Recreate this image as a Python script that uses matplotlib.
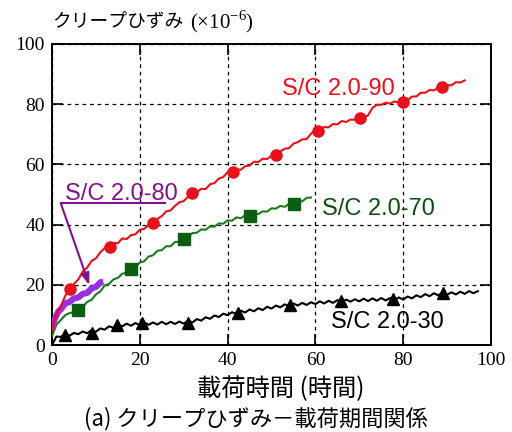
import matplotlib
matplotlib.use("Agg")
import matplotlib.pyplot as plt

plt.rcParams["font.family"] = ["Liberation Serif"]
plt.rcParams["mathtext.fontset"] = "custom"
plt.rcParams["mathtext.rm"] = "Liberation Serif"

# creep strain (x1e-6) sampled every hour
red_strain = [5.0, 10.2, 12.8, 16.3, 18.4, 20.3, 21.8, 24.4, 25.7, 27.9, 28.8, 30.8, 32.2, 32.8, 33.9,
              33.8, 35.4, 35.2, 36.5, 36.8, 38.3, 38.6, 39.9, 40.3, 41.9, 42.8, 44.4, 44.7, 46.2, 47.4,
              47.8, 49.3, 50.1, 50.8, 51.9, 51.8, 53.4, 53.8, 55.3, 55.8, 57.4, 57.3, 58.4, 58.2, 59.4,
              59.6, 60.9, 60.8, 61.9, 61.8, 62.9, 62.8, 64.3, 65.2, 65.4, 66.9, 67.4, 68.3, 68.4, 70.2,
              71.3, 71.3, 72.4, 72.3, 73.4, 73.3, 74.4, 74.1, 74.9, 74.8, 75.6, 75.4, 76.3, 78.8, 79.8,
              79.8, 80.5, 80.2, 80.9, 80.6, 81.3, 81.4, 82.5, 82.6, 83.8, 83.8, 84.7, 84.6, 85.5, 85.4,
              86.3, 86.3, 87.3, 87.2, 87.9]
green_strain = [3.0, 6.7, 8.3, 9.9, 10.6, 10.9, 11.9, 12.6, 14.3, 15.0, 16.8, 17.8, 19.8, 20.3, 21.8,
                22.3, 23.7, 24.0, 25.3, 25.8, 27.4, 27.8, 29.4, 29.8, 31.3, 31.5, 32.8, 32.8, 34.2, 34.3,
                35.6, 35.8, 37.2, 37.3, 38.4, 38.3, 39.4, 39.3, 40.4, 40.3, 41.4, 41.3, 42.4, 42.1, 43.1,
                42.8, 43.7, 43.5, 44.4, 44.3, 45.4, 45.3, 46.2, 45.9, 46.9, 46.6, 47.7, 47.7, 48.9, 49.0]
black_strain = [0.0, 2.8, 2.7, 3.7, 3.1, 4.0, 3.6, 4.5, 3.9, 4.9, 4.4, 5.5, 5.1, 6.2, 5.7, 6.8, 6.2,
                7.1, 6.4, 7.3, 6.6, 7.5, 6.7, 7.5, 6.8, 7.7, 6.9, 7.7, 7.0, 7.8, 7.1, 8.0, 7.5, 8.6,
                8.1, 9.2, 8.7, 9.8, 9.3, 10.4, 9.9, 10.9, 10.3, 11.4, 10.8, 11.8, 11.2, 12.2, 11.6,
                12.7, 12.1, 13.1, 12.5, 13.5, 12.9, 13.8, 13.1, 14.0, 13.3, 14.2, 13.6, 14.5, 13.8,
                14.7, 14.0, 14.9, 14.2, 15.1, 14.4, 15.2, 14.5, 15.4, 14.6, 15.5, 14.7, 15.6, 14.8,
                15.6, 14.9, 15.8, 15.1, 16.1, 15.5, 16.5, 15.9, 16.9, 16.2, 17.2, 16.5, 17.4, 16.7,
                17.5, 16.8, 17.7, 17.0, 17.9, 17.2, 17.9]
purple_hours = [0, 0.5, 1, 1.5, 2, 3, 4, 5, 6, 7, 8, 9, 10, 11, 11.7]
purple_strain = [5.0, 8.3, 9.8, 11.3, 11.8, 13.8, 14.3, 15.5, 15.8, 17.0, 17.3, 18.8, 19.3, 20.8, 21.0]

red_hours = list(range(len(red_strain)))
green_hours = list(range(len(green_strain)))
black_hours = list(range(len(black_strain)))

# marker positions
red_mark_h = [4.1, 13.1, 23.1, 32.0, 41.2, 51.0, 60.5, 70.2, 79.9, 88.8]
red_mark_v = [18.6, 32.4, 40.6, 50.4, 57.6, 63.1, 71.2, 75.3, 80.8, 85.6]
green_mark_h = [6.0, 17.9, 30.1, 45.1, 55.2]
green_mark_v = [11.6, 25.1, 35.2, 43.0, 46.8]
black_mark_h = [3.0, 9.0, 14.7, 20.4, 31.0, 42.4, 54.2, 65.8, 77.7, 89.1]
black_mark_v = [3.3, 3.9, 6.6, 7.2, 7.4, 10.7, 13.3, 14.6, 15.2, 17.2]

ticks = [0, 20, 40, 60, 80, 100]

RED = "#e8101a"
GREEN = "#1d7a1d"
DKGREEN = "#0f4d12"
PURPLE = "#9a2fe0"
DKPURPLE = "#80138a"
JP = ["Noto Sans CJK JP", "DejaVu Sans"]

fig = plt.figure(figsize=(5.12, 4.32), dpi=100)
ax = fig.add_axes([52 / 512, 1 - 345 / 432, 439 / 512, 301 / 432])

ax.plot(black_hours, black_strain, color="black", lw=1.5, zorder=3)
ax.plot(black_mark_h, black_mark_v, "^", color="black", ms=8, zorder=4)
ax.plot(green_hours, green_strain, color=GREEN, lw=1.5, zorder=3)
ax.plot(green_mark_h, green_mark_v, "s", color="#0b5e12", ms=8, zorder=4)
ax.plot(purple_hours, purple_strain, color=PURPLE, lw=4.5, zorder=3, solid_capstyle="butt")
ax.plot(red_hours, red_strain, color=RED, lw=1.5, zorder=3)
ax.plot(red_mark_h, red_mark_v, "o", color=RED, ms=8, zorder=4)

ax.set_xlim(0, 100)
ax.set_ylim(0, 100)
ax.set_xticks(ticks)
ax.set_yticks(ticks)
ax.set_xticklabels([str(t) for t in ticks], fontfamily="Liberation Serif")
ax.set_yticklabels([str(t) for t in ticks], fontfamily="Liberation Serif")
ax.grid(True, color="black", lw=0.9, linestyle=(0, (3, 3)))
ax.tick_params(direction="in", length=8, width=1.2, top=True, right=True, labelsize=14, pad=5)
for sp in ax.spines.values():
    sp.set_linewidth(1.4)

lbl = dict(family="Liberation Sans", fontsize=17, ha="center", va="center")
ax.text(65.2, 84.9, "S/C 2.0-90", color=RED, **lbl)
ax.text(74.3, 45.2, "S/C 2.0-70", color=DKGREEN, **lbl)
ax.text(76.5, 7.7, "S/C 2.0-30", color="black", **lbl)
ax.text(15.8, 50.3, "S/C 2.0-80", color=DKPURPLE, **lbl)
ax.plot([2.0, 25.7], [47.1, 47.1], color=DKPURPLE, lw=1.5, zorder=5)
ax.annotate("", xy=(8.5, 19.9), xytext=(2.0, 47.1),
            arrowprops=dict(arrowstyle="-|>,head_length=0.7,head_width=0.25",
                            color=DKPURPLE, lw=1.5, shrinkA=0, shrinkB=0), zorder=5)

fig.text(52 / 512, 1 - 22 / 432, "クリープひずみ", family=JP, fontsize=13.5, ha="left", va="center")
fig.text(190 / 512, 1 - 22 / 432, "(×10$^{\\mathregular{-6}}$)", family="Liberation Serif",
         fontsize=15, ha="left", va="center")
fig.text(281 / 512, 1 - 389 / 432, "載荷時間 (時間)", family=JP, fontsize=17.5, ha="center", va="center")
fig.text(256 / 512, 1 - 419 / 432, "(a) クリープひずみ－載荷期間関係", family=JP, fontsize=16,
         ha="center", va="center")

fig.savefig("out.png", dpi=100)
